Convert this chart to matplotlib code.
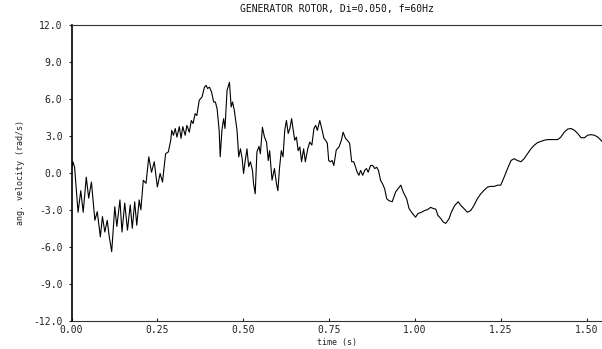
import matplotlib
matplotlib.use("Agg")
import matplotlib.pyplot as plt
from matplotlib.ticker import FormatStrFormatter

# Rotor angular velocity response (time in s, velocity in rad/s)
time_s = [
    0.000, 0.004, 0.009, 0.019, 0.027, 0.034, 0.043, 0.050, 0.058, 0.068,
    0.075, 0.084, 0.090, 0.097, 0.104, 0.110, 0.117, 0.126, 0.132, 0.141,
    0.147, 0.155, 0.163, 0.171, 0.177, 0.184, 0.190, 0.197, 0.202, 0.209,
    0.217, 0.225, 0.233, 0.241, 0.250, 0.258, 0.265, 0.274, 0.282, 0.289,
    0.292, 0.297, 0.302, 0.307, 0.314, 0.319, 0.324, 0.331, 0.336, 0.343,
    0.349, 0.354, 0.360, 0.365, 0.372, 0.380, 0.387, 0.392, 0.396, 0.402,
    0.408, 0.414, 0.419, 0.424, 0.430, 0.433, 0.438, 0.443, 0.447, 0.453,
    0.460, 0.465, 0.469, 0.474, 0.482, 0.487, 0.492, 0.497, 0.501, 0.506,
    0.511, 0.516, 0.521, 0.527, 0.530, 0.535, 0.540, 0.546, 0.550, 0.556,
    0.562, 0.568, 0.573, 0.577, 0.584, 0.591, 0.597, 0.601, 0.606, 0.611,
    0.616, 0.621, 0.626, 0.631, 0.636, 0.641, 0.645, 0.650, 0.655, 0.660,
    0.665, 0.670, 0.676, 0.681, 0.688, 0.694, 0.700, 0.706, 0.711, 0.716,
    0.723, 0.730, 0.735, 0.740, 0.745, 0.749, 0.754, 0.759, 0.764, 0.771,
    0.779, 0.786, 0.791, 0.798, 0.803, 0.810, 0.816, 0.822, 0.827, 0.832,
    0.837, 0.842, 0.848, 0.854, 0.859, 0.864, 0.871, 0.877, 0.883, 0.889,
    0.894, 0.900, 0.906, 0.912, 0.918, 0.924, 0.934, 0.944, 0.951, 0.959,
    0.966, 0.976, 0.983, 0.993, 1.002, 1.009, 1.019, 1.029, 1.036, 1.046,
    1.054, 1.061, 1.067, 1.075, 1.083, 1.090, 1.100, 1.106, 1.116, 1.126,
    1.134, 1.143, 1.153, 1.163, 1.172, 1.182, 1.192, 1.202, 1.212, 1.221,
    1.231, 1.241, 1.250, 1.260, 1.270, 1.280, 1.289, 1.299, 1.309, 1.318,
    1.328, 1.338, 1.348, 1.357, 1.367, 1.377, 1.387, 1.396, 1.406, 1.416,
    1.425, 1.435, 1.445, 1.455, 1.465, 1.474, 1.484, 1.494, 1.503, 1.513,
    1.523, 1.533, 1.542, 1.547,
]
ang_velocity = [
    0.30, 0.90, 0.45, -3.20, -1.45, -3.20, -0.35, -2.05, -0.75, -3.85,
    -3.15, -5.20, -3.55, -4.80, -3.85, -5.20, -6.40, -2.75, -4.35, -2.20,
    -4.80, -2.45, -4.65, -2.60, -4.50, -2.35, -4.25, -2.20, -3.00, -0.60,
    -0.85, 1.30, 0.05, 0.90, -1.15, -0.05, -0.75, 1.55, 1.70, 2.65,
    3.45, 3.05, 3.60, 2.90, 3.75, 2.80, 3.75, 3.05, 3.85, 3.30,
    4.25, 4.00, 4.80, 4.65, 5.90, 6.15, 6.95, 7.10, 6.85, 6.95,
    6.55, 5.75, 5.75, 5.20, 3.45, 1.30, 3.45, 4.40, 3.60, 6.70,
    7.35, 5.35, 5.75, 5.10, 3.45, 1.30, 1.95, 1.15, -0.05, 1.00,
    1.95, 0.50, 0.90, 0.20, -0.85, -1.70, 1.70, 2.15, 1.55, 3.70,
    2.90, 2.50, 1.00, 1.80, -0.60, 0.35, -0.90, -1.45, 0.45, 1.80,
    1.30, 3.45, 4.25, 3.20, 3.60, 4.40, 3.60, 2.65, 2.90, 1.80,
    2.10, 0.90, 1.95, 0.90, 1.95, 2.50, 2.25, 3.60, 3.85, 3.45,
    4.25, 3.45, 2.80, 2.65, 2.40, 1.00, 0.90, 1.00, 0.60, 1.85,
    2.10, 2.65, 3.30, 2.80, 2.65, 2.40, 0.90, 0.90, 0.50, 0.05,
    -0.20, 0.20, -0.20, 0.20, 0.35, 0.05, 0.60, 0.60, 0.35, 0.45,
    0.20, -0.60, -0.90, -1.30, -2.10, -2.25, -2.35, -1.55, -1.30, -1.00,
    -1.55, -2.10, -2.90, -3.30, -3.60, -3.30, -3.20, -3.05, -3.00, -2.80,
    -2.90, -2.95, -3.45, -3.70, -4.00, -4.10, -3.70, -3.20, -2.65, -2.35,
    -2.65, -2.90, -3.20, -3.05, -2.65, -2.10, -1.70, -1.40, -1.15, -1.10,
    -1.10, -1.00, -1.00, -0.35, 0.35, 1.00, 1.15, 1.00, 0.90, 1.15,
    1.55, 1.95, 2.25, 2.45, 2.55, 2.65, 2.70, 2.70, 2.70, 2.70,
    2.90, 3.30, 3.55, 3.60, 3.45, 3.20, 2.85, 2.85, 3.05, 3.10,
    3.05, 2.90, 2.65, 2.50,
]

x_ticks = [0.00, 0.25, 0.50, 0.75, 1.00, 1.25, 1.50]
y_ticks = [-12.0, -9.0, -6.0, -3.0, 0.0, 3.0, 6.0, 9.0, 12.0]

title = "GENERATOR ROTOR, Di=0.050, f=60Hz"
x_label = "time (s)"
y_label = "ang. velocity (rad/s)"

plt.rcParams["font.family"] = ["DejaVu Sans Mono"]

fig = plt.figure(figsize=(6.02, 3.49), dpi=100)
ax = fig.add_axes([0.1188, 0.0811, 0.8812, 0.8473])

ax.plot(time_s, ang_velocity, color="black", linewidth=0.8)

ax.set_xlim(0, 1.545)
ax.set_ylim(-12, 12)
ax.set_xticks(x_ticks)
ax.set_yticks(y_ticks)
ax.xaxis.set_major_formatter(FormatStrFormatter("%.2f"))
ax.yaxis.set_major_formatter(FormatStrFormatter("%.1f"))

ax.tick_params(axis="x", direction="in", length=2.5, width=0.8, pad=3,
               labelsize=7, colors="#222222")
ax.tick_params(axis="y", direction="out", length=2.5, width=0.8, pad=4,
               labelsize=7, colors="#222222")

for side in ("top", "bottom"):
    ax.spines[side].set_linewidth(0.8)
    ax.spines[side].set_color("#333333")
ax.spines["left"].set_linewidth(1.2)
ax.spines["left"].set_color("black")
ax.spines["right"].set_visible(False)

ax.set_title(title, fontsize=7, pad=9, color="#111111")
ax.set_xlabel(x_label, fontsize=6, labelpad=2, color="#222222")
ax.set_ylabel(y_label, fontsize=6, labelpad=6, color="#222222")

fig.savefig("out.png", dpi=100)
